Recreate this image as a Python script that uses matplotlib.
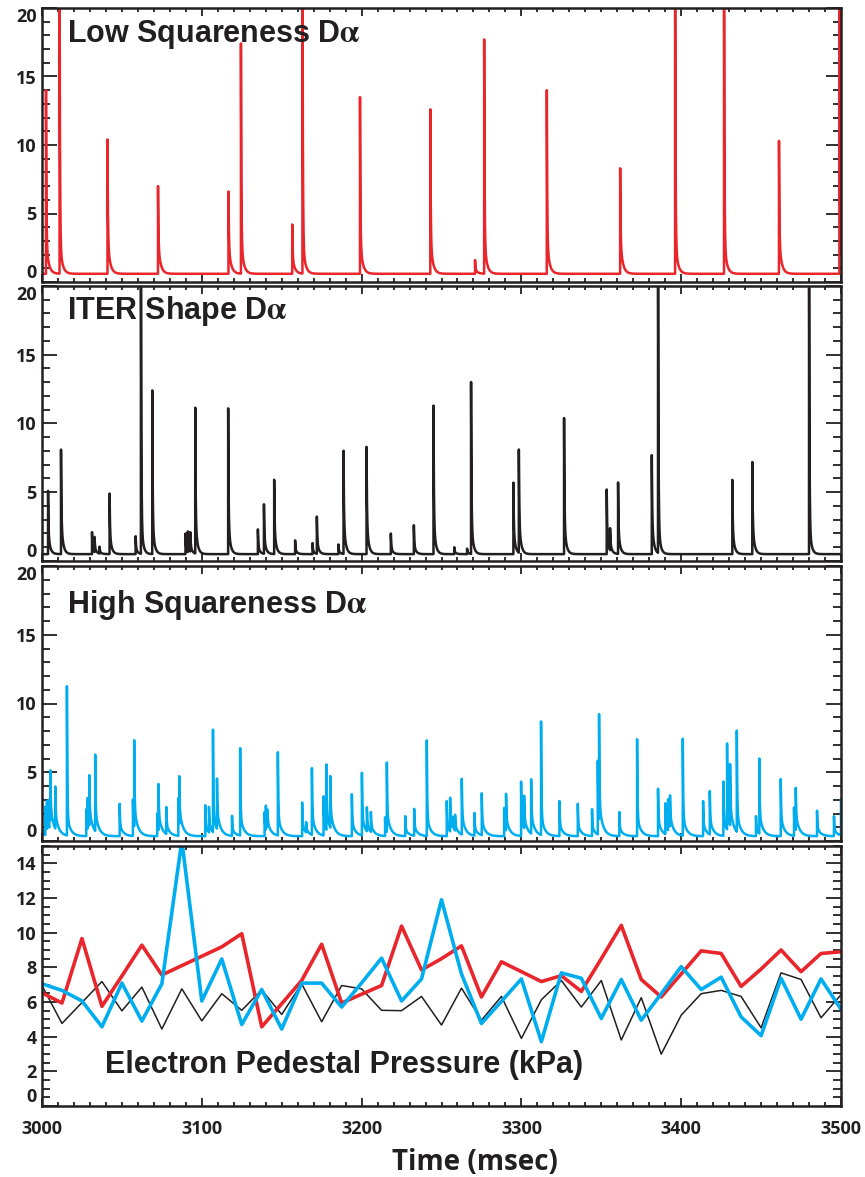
import numpy as np
import matplotlib.pyplot as plt
from matplotlib.ticker import MultipleLocator

plt.rcParams['font.family'] = ['Open Sans', 'DejaVu Sans']
plt.rcParams['font.weight'] = 'bold'
plt.rcParams['mathtext.fontset'] = 'stix'

INK = '#231f20'
RED = '#e8262b'
CYAN = '#00aeef'
LABEL_FONT = ['Liberation Sans', 'DejaVu Sans']

# ELM peaks in the D-alpha traces: time (ms) and peak height
low_sq_t = [3002.5, 3011.0, 3041.0, 3072.6, 3116.7, 3124.5, 3156.6, 3163.0, 3199.0,
            3243.0, 3271.0, 3276.7, 3315.9, 3361.8, 3396.2, 3426.8, 3461.2, 3499.0]
low_sq_h = [14.0, 25.0, 10.4, 7.0, 6.6, 17.4, 4.2, 25.0, 13.5,
            12.6, 1.6, 17.7, 14.0, 8.3, 25.0, 25.0, 10.3, 25.0]

iter_t = [3003.8, 3011.9, 3031.3, 3032.9, 3036.0, 3042.3, 3058.6, 3061.9, 3069.0,
          3089.8, 3091.3, 3092.8, 3095.9, 3116.5, 3135.1, 3138.9, 3145.3, 3158.4,
          3169.3, 3172.0, 3185.5, 3188.7, 3203.1, 3218.3, 3232.7, 3245.0, 3258.0,
          3266.0, 3268.5, 3295.0, 3298.4, 3326.7, 3353.4, 3355.5, 3360.5, 3381.6,
          3385.5, 3432.0, 3444.5, 3480.0]
iter_h = [5.1, 8.1, 2.1, 1.6, 1.0, 4.9, 1.8, 25.0, 12.4,
          2.0, 2.0, 1.9, 11.1, 11.1, 2.3, 4.1, 5.9, 1.5,
          1.3, 3.2, 1.2, 8.0, 8.3, 2.0, 2.6, 11.3, 1.0,
          0.9, 13.0, 5.7, 8.0, 10.4, 5.2, 2.1, 5.7, 7.7,
          25.0, 5.9, 7.2, 25.0]

high_sq_t = [3000.0, 3002.1, 3003.1, 3004.6, 3005.2, 3008.3, 3015.6, 3027.7, 3028.5,
             3029.6, 3033.3, 3048.6, 3056.9, 3057.7, 3072.1, 3072.9, 3077.8, 3085.3,
             3085.9, 3102.2, 3104.5, 3107.0, 3109.5, 3118.9, 3124.0, 3139.3, 3140.1,
             3141.1, 3147.6, 3162.8, 3165.3, 3168.9, 3176.2, 3178.0, 3180.4, 3193.9,
             3200.2, 3203.3, 3205.8, 3214.7, 3215.8, 3227.3, 3232.9, 3240.8, 3253.3,
             3255.4, 3256.7, 3258.5, 3262.7, 3270.6, 3275.2, 3289.2, 3290.4, 3299.8,
             3301.7, 3306.1, 3312.3, 3323.8, 3335.3, 3344.2, 3347.8, 3348.6, 3361.3,
             3372.4, 3385.5, 3390.1, 3391.8, 3393.0, 3401.0, 3413.7, 3417.9, 3426.4,
             3428.7, 3430.6, 3434.8, 3446.8, 3448.9, 3462.3, 3470.6, 3471.7, 3485.0,
             3495.6, 3500.0]
high_sq_h = [1.0, 2.4, 2.4, 2.4, 4.0, 3.4, 11.2, 2.3, 2.6,
             4.0, 5.9, 2.7, 3.0, 6.6, 2.0, 3.7, 2.3, 3.1,
             3.8, 2.6, 2.2, 7.8, 4.0, 1.8, 6.7, 2.1, 2.1,
             1.6, 6.4, 2.8, 1.1, 5.2, 3.2, 5.1, 4.1, 3.4,
             4.9, 2.1, 1.8, 1.7, 5.4, 1.8, 2.3, 7.3, 2.9,
             2.8, 1.1, 1.5, 4.4, 2.0, 3.4, 2.4, 3.0, 4.3,
             2.7, 4.3, 8.6, 2.9, 2.7, 2.3, 5.7, 8.0, 2.1,
             7.4, 3.8, 2.6, 2.6, 2.6, 7.4, 2.9, 3.5, 4.3,
             6.6, 4.8, 7.7, 1.8, 5.8, 4.5, 2.4, 3.4, 2.2,
             1.8, 3.0]

# electron pedestal pressure (kPa), one profile every 12.5 ms
ped_t = 3000 + 12.5 * np.arange(41)
ped_low = [6.53, 5.94, 9.66, 5.75, 7.5, 9.28, 7.56, 8.1, 8.64, 9.18,
           9.94, 4.57, 5.9, 7.24, 9.33, 5.94, 6.45, 6.95, 10.38, 7.85,
           8.5, 9.24, 6.29, 8.32, 7.75, 7.18, 7.52, 6.61, 8.5, 10.42,
           7.3, 6.29, 7.62, 8.95, 8.8, 6.9, 7.9, 9.0, 7.75, 8.8, 8.9]
ped_iter = [6.95, 4.76, 5.97, 7.18, 5.49, 6.86, 4.44, 6.76, 4.91, 6.48,
            5.52, 6.7, 5.28, 7.05, 4.86, 6.95, 6.76, 5.52, 5.5, 6.32,
            4.67, 6.8, 4.95, 6.32, 3.9, 6.13, 7.24, 5.71, 7.24, 3.81,
            6.25, 2.99, 5.24, 6.48, 6.67, 6.32, 4.51, 7.68, 7.3, 5.09, 6.42]
ped_high = [7.05, 6.67, 6.06, 4.57, 7.09, 4.9, 7.05, 15.3, 6.06, 8.48,
            4.7, 6.72, 4.44, 7.09, 7.09, 5.71, 7.1, 8.53, 6.06, 7.33,
            11.9, 7.62, 4.76, 6.04, 7.33, 3.71, 7.68, 7.37, 5.05, 7.3,
            4.95, 6.48, 8.04, 6.72, 7.43, 5.14, 4.06, 7.37, 5.01, 7.33, 5.58]

time = np.arange(2990.0, 3510.0, 0.02)


def d_alpha(peak_t, peak_h, base, tail_tau, tail_max):
    # baseline plus a sharp burst and a slower recovery tail for each ELM
    sig = np.full_like(time, base)
    for t0, h in zip(peak_t, peak_h):
        dt = time - t0
        on = dt >= -1e-6
        tail = min(0.35 * (h - base), tail_max)
        d = np.clip(dt[on], 0, None)
        sig[on] += (h - base - tail) * np.exp(-d / 0.25) + tail * np.exp(-d / tail_tau)
    return sig


fig = plt.figure(figsize=(8.65, 11.77), dpi=100)
W, H = 865.0, 1177.0
left, right = 42, 841


def make_axes(top, bottom):
    return fig.add_axes([left / W, 1 - bottom / H, (right - left) / W, (bottom - top) / H])


def style(ax, ymajor, yminor):
    ax.set_xlim(3000, 3500)
    ax.xaxis.set_major_locator(MultipleLocator(100))
    ax.xaxis.set_minor_locator(MultipleLocator(10))
    ax.yaxis.set_minor_locator(MultipleLocator(yminor))
    ax.tick_params(which='both', direction='in', top=True, right=True,
                   color=INK, width=1.3, labelsize=13, labelcolor=INK)
    ax.tick_params(axis='y', which='major', length=11, pad=4)
    ax.tick_params(axis='y', which='minor', length=5.5)
    ax.tick_params(axis='x', which='major', length=6, pad=10)
    ax.tick_params(axis='x', which='minor', length=3)
    for s in ax.spines.values():
        s.set_linewidth(1.8)
        s.set_color(INK)


panels = [
    (8, 282, low_sq_t, low_sq_h, 0.6, 1.5, 2.5, RED, r'Low Squareness D$\mathrm{\alpha}$', 0.877),
    (286, 561, iter_t, iter_h, 0.5, 1.2, 2.5, INK, r'ITER Shape D$\mathrm{\alpha}$', 0.879),
    (566, 841, high_sq_t, high_sq_h, 0.35, 2.2, 1.4, CYAN, r'High Squareness D$\mathrm{\alpha}$', 0.830),
]

for top, bottom, pt, ph, base, tau, tmax, color, title, ty in panels:
    ax = make_axes(top, bottom)
    ax.plot(time, d_alpha(pt, ph, base, tau, tmax), color=color, lw=1.8)
    ax.set_ylim(0, 20)
    style(ax, 5, 1)
    ax.set_yticks([0, 5, 10, 15, 20])
    ax.set_xticklabels([])
    yt = ax.yaxis.get_major_ticks()
    yt[0].label1.set_va('bottom')
    yt[-1].label1.set_va('top')
    ax.text(0.031, ty, title, transform=ax.transAxes, fontsize=22,
            fontweight='bold', family=LABEL_FONT, color=INK, va='baseline', zorder=5)

ax = make_axes(846, 1106)
ax.plot(ped_t, ped_iter, color=INK, lw=1.1)
ax.plot(ped_t, ped_low, color=RED, lw=2.6)
ax.plot(ped_t, ped_high, color=CYAN, lw=2.6)
ax.set_ylim(0, 15)
style(ax, 2, 0.5)
ax.set_yticks([0, 2, 4, 6, 8, 10, 12, 14])
ax.yaxis.get_major_ticks()[0].label1.set_va('bottom')
ax.set_xticks([3000, 3100, 3200, 3300, 3400, 3500])
ax.text(0.079, 0.126, 'Electron Pedestal Pressure (kPa)', transform=ax.transAxes,
        fontsize=22, fontweight='bold', family=LABEL_FONT, color=INK, va='baseline')

fig.text(475 / W, 1 - 1170 / H, 'Time (msec)', ha='center', va='baseline',
         fontsize=20, fontweight='bold', color=INK)

fig.savefig('out.png', dpi=100)
